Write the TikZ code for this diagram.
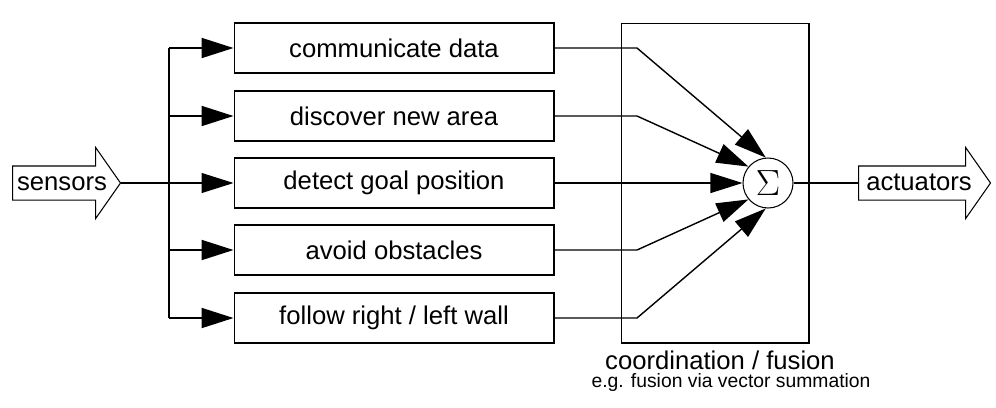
\documentclass[tikz,border=0pt]{standalone}
\usepackage{fontspec}
\setmainfont{Liberation Sans}
\usetikzlibrary{arrows.meta, positioning, shapes.arrows, shadows, calc}

\newcommand{\labelfont}{\fontsize{14.6}{17}\selectfont}
\newcommand{\notefont}{\fontsize{11}{13}\selectfont}

\tikzset{
    behaviour/.style={rectangle,draw,fill=white,line width=0.6pt,minimum width=6.4cm,minimum height=1cm,font=\labelfont,
        drop shadow={shadow xshift=0.6pt,shadow yshift=-0.6pt,opacity=1,fill=black}},
    bigarrow/.style={single arrow,draw,fill=white,line width=0.6pt,inner sep=0pt,text height=0.66cm,text depth=0pt,
        single arrow head extend=0.37cm,single arrow tip angle=110,anchor=tail},
    bigtip/.style={-{Triangle[length=0.64cm,width=0.4cm]}},
    bus/.style={line width=1.1pt},
    feed/.style={line width=0.6pt}
}

\begin{document}
\begin{tikzpicture}[x=0.02cm,y=-0.02cm]
    \useasboundingbox (0,0) rectangle (996,407);

    % Behaviours
    \node[behaviour] (comm) at (394,48) {communicate data};
    \node[behaviour] (disc) at (394,116) {discover new area};
    \node[behaviour] (goal) at (394,183) {detect goal position};
    \node[behaviour] (avoid) at (394,250) {avoid obstacles};
    \node[behaviour] (wall) at (394,318) {follow right / left wall};

    % Sensors and actuators
    \node[bigarrow,minimum height=2.16cm] (sensors) at (12,183) {};
    \node[font=\labelfont,anchor=base] at (62,190) {sensors};
    \node[bigarrow,minimum height=2.64cm] (actuators) at (858,183) {};
    \node[font=\labelfont,anchor=base] at (919,190) {actuators};

    % Coordination box
    \node[rectangle,draw,line width=0.6pt,minimum width=3.76cm,minimum height=6.4cm] (fusion) at (715,183) {};
    \node[font=\labelfont,anchor=base] (coordlabel) at (720,369) {coordination / fusion};
    \node[font=\notefont,anchor=base] (coordnote) at (731,387) {e.g. fusion via vector summation};
    \node[circle,draw,fill=white,line width=0.6pt,minimum size=1cm,inner sep=0pt,font=\fontsize{21}{24}\selectfont] (sigma) at (768,183) {$\Sigma$};

    % Sensor bus
    \coordinate (busx) at (169,183);
    \coordinate (bendx) at (637,183);
    \draw[feed,bigtip] (sensors.tip) -- (goal.west);
    \draw[bus] (busx |- comm.west) -- (busx |- wall.west);
    \foreach \b in {comm,disc,avoid,wall}
        \draw[bus,bigtip] (busx |- \b.west) -- (\b.west);

    % Into the summation
    \draw[line width=0.8pt,bigtip] (comm.east) -- (comm.east -| bendx) -- (sigma.95);
    \draw[line width=0.8pt,bigtip] (disc.east) -- (disc.east -| bendx) -- (sigma.140);
    \draw[feed,bigtip] (goal.east) -- (sigma.west);
    \draw[line width=0.8pt,bigtip] (avoid.east) -- (avoid.east -| bendx) -- (sigma.220);
    \draw[line width=0.8pt,bigtip] (wall.east) -- (wall.east -| bendx) -- (sigma.265);
    \draw[feed] (sigma.east) -- (actuators.tail);
\end{tikzpicture}
\end{document}
